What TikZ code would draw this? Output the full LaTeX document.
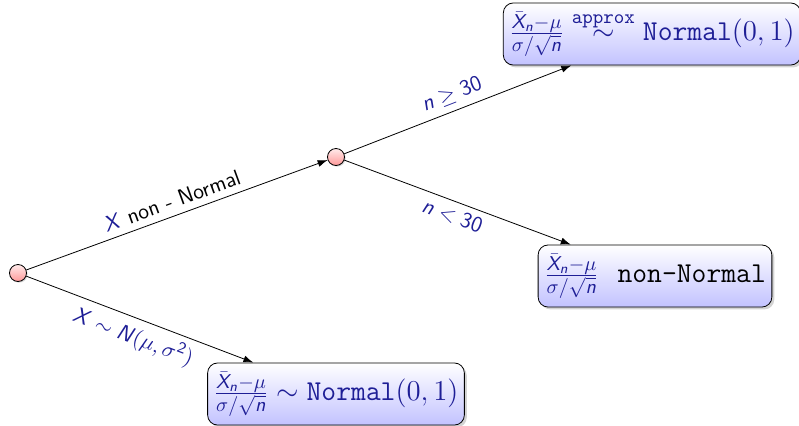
\documentclass[tikz,border=0pt]{standalone}
\usetikzlibrary{positioning,arrows.meta,shadows}
\definecolor{mathblue}{RGB}{30,30,150}
\DeclareMathAlphabet{\mathsfit}{OT1}{cmss}{m}{sl}
\newcommand\stdmean{\frac{\bar{\mathsfit{X}}_{\mathsfit{n}}-\mu}{\sigma/\sqrt{\mathsfit{n}}}}
\renewcommand\familydefault{\sfdefault}
\begin{document}
\begin{tikzpicture}[node distance=5mm,on grid,dot/.style={circle,draw,inner sep=0pt,minimum size=8.5pt,top color=red!8,bottom color=red!40,drop shadow={opacity=.3,shadow xshift=.6pt,shadow yshift=-.6pt}},box/.style={draw,rounded corners=5pt,top color=white,bottom color=blue!24,inner xsep=3pt,inner ysep=4.5pt,font=\fontsize{14.4}{17}\selectfont,drop shadow={opacity=.35,shadow xshift=1.2pt,shadow yshift=-1.2pt}},a/.style={-{Latex[length=5pt,width=3.5pt]}},l/.style={midway,sloped,font=\fontsize{11}{13}\selectfont}]
\useasboundingbox (-9pt,-76pt) rectangle (390.5pt,136.5pt);
\node[dot](root){};
\node[dot,above right=58pt and 159pt of root](split){};
\node[box,below right=60.5pt and 159pt of root](normal){$\color{mathblue}\stdmean\sim\mathtt{Normal}(0,1)$};
\node[box,above right=61.5pt and 158pt of split](approx){$\color{mathblue}\stdmean\stackrel{\mathtt{approx}}{\sim}\mathtt{Normal}(0,1)$};
\node[box,below right=59.5pt and 159.5pt of split](nonnormal){$\color{mathblue}\stdmean$\ \ \texttt{non-Normal}};
\draw[a](root)--node[l,above]{$\color{mathblue}\mathsfit{X}$ non - Normal}(split);
\draw[a](root)--node[l,below]{$\color{mathblue}\mathsfit{X}\sim\mathsfit{N}(\mu,\sigma^{\mathsf{2}})$}(normal);
\draw[a](split)--node[l,above]{$\color{mathblue}\mathsfit{n}\geq\mathsf{30}$}(approx);
\draw[a](split)--node[l,below]{$\color{mathblue}\mathsfit{n}<\mathsf{30}$}(nonnormal);
\end{tikzpicture}
\end{document}
